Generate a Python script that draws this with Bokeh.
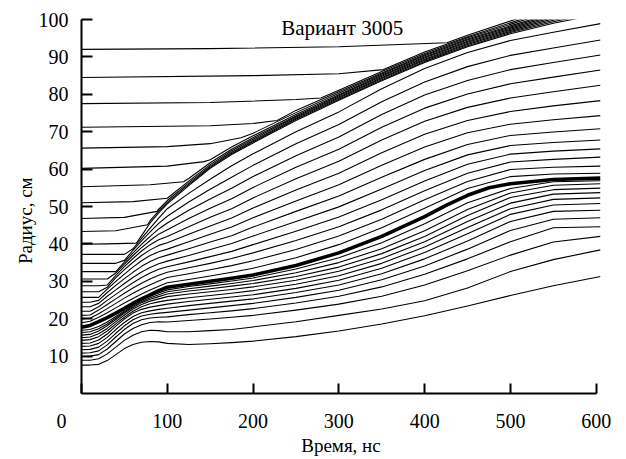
from bokeh.plotting import figure
from bokeh.models import Range1d, FixedTicker, Label
from bokeh.embed import file_html
from bokeh.resources import INLINE

FONT = "Liberation Serif"
NB = "\u00a0"

# common time grid (ns)
T = [0, 10, 20, 30, 40, 50, 60, 70, 80, 90, 100, 125, 150, 175, 200, 250, 300, 350, 400, 450, 500, 550, 605]

# trajectories below the thick line (radius, cm)
INNER = [
    [7.6, 7.6, 7.8, 8.8, 10.4, 12.0, 13.1, 13.7, 13.9, 13.8, 13.4, 13.1, 13.3, 13.6, 14.0, 15.2, 16.7, 18.6, 20.8, 23.4, 26.2, 28.8, 31.3],
    [8.9, 8.9, 9.3, 10.6, 12.4, 14.2, 15.6, 16.5, 16.9, 16.8, 16.5, 16.5, 16.8, 17.1, 17.8, 19.2, 20.9, 22.6, 24.8, 28.2, 32.6, 35.8, 38.4],
    [9.9, 10.0, 10.4, 11.9, 13.9, 15.9, 17.4, 18.4, 19.0, 19.2, 19.1, 19.5, 19.9, 20.4, 20.9, 22.3, 23.9, 26.0, 29.0, 32.8, 37.0, 40.5, 42.0],
    [10.8, 10.9, 11.4, 13.0, 15.1, 17.1, 18.7, 19.7, 20.2, 20.4, 20.5, 21.1, 21.6, 22.1, 22.7, 24.2, 26.0, 28.5, 31.9, 36.0, 40.6, 44.3, 44.6],
    [11.7, 11.8, 12.4, 14.0, 16.1, 18.1, 19.7, 20.7, 21.2, 21.5, 21.7, 22.3, 22.9, 23.5, 24.1, 25.7, 27.6, 30.4, 34.1, 38.6, 43.6, 46.6, 47.0],
    [12.6, 12.7, 13.4, 15.0, 17.1, 19.0, 20.6, 21.6, 22.1, 22.5, 22.8, 23.5, 24.1, 24.7, 25.3, 27.0, 29.0, 32.0, 36.0, 40.8, 46.0, 48.7, 49.0],
    [13.4, 13.5, 14.3, 15.9, 18.0, 19.9, 21.5, 22.5, 23.1, 23.5, 23.9, 24.6, 25.2, 25.8, 26.4, 28.1, 30.3, 33.5, 37.7, 42.7, 47.9, 50.4, 50.8],
    [14.2, 14.4, 15.2, 16.7, 18.6, 20.4, 22.0, 23.2, 24.0, 24.5, 24.9, 25.6, 26.2, 26.8, 27.5, 29.2, 31.5, 34.8, 39.2, 44.4, 49.4, 51.9, 52.3],
    [14.9, 15.1, 16.0, 17.4, 19.2, 21.0, 22.6, 23.8, 24.7, 25.3, 25.9, 26.6, 27.2, 27.8, 28.5, 30.3, 32.7, 36.1, 40.6, 46.0, 50.9, 53.3, 53.7],
    [15.6, 15.8, 16.7, 18.1, 19.8, 21.5, 23.0, 24.3, 25.2, 25.9, 26.6, 27.4, 28.0, 28.7, 29.4, 31.3, 33.8, 37.4, 42.0, 47.6, 52.4, 54.5, 54.9],
    [16.3, 16.5, 17.3, 18.6, 20.2, 21.8, 23.3, 24.6, 25.6, 26.4, 27.2, 28.0, 28.7, 29.4, 30.2, 32.3, 35.0, 38.7, 43.5, 49.2, 53.6, 55.7, 56.1],
    [16.9, 17.1, 17.9, 19.1, 20.6, 22.1, 23.6, 25.0, 26.0, 26.9, 27.7, 28.6, 29.3, 30.1, 30.9, 33.3, 36.3, 40.3, 45.4, 51.0, 54.8, 56.6, 56.9],
]

# highlighted trajectory (own time points, denser near its bend)
THICK_T = [0, 10, 20, 30, 40, 50, 60, 70, 80, 90, 100, 125, 150, 175, 200, 250, 300, 350, 400, 425, 450, 475, 500, 550, 605]
THICK = [17.7, 18.2, 19.2, 20.3, 21.5, 22.8, 24.1, 25.3, 26.4, 27.5, 28.4, 29.2, 30.0, 30.8, 31.7, 34.2, 37.6, 42.0, 47.3, 50.3, 53.0, 55.0, 56.1, 57.2, 57.6]

# trajectories between the thick line and the dense band
OUTER = [
    [18.9, 19.3, 20.4, 21.6, 22.9, 24.2, 25.4, 26.6, 27.7, 28.7, 29.6, 30.5, 31.4, 32.4, 33.5, 36.3, 39.8, 44.3, 49.5, 54.8, 58.0, 58.7, 58.9],
    [19.9, 20.1, 21.3, 22.7, 24.1, 25.5, 26.8, 28.0, 29.1, 30.1, 31.0, 32.0, 33.1, 34.2, 35.5, 38.5, 42.1, 46.6, 51.8, 56.7, 59.9, 60.5, 60.8],
    [20.9, 21.0, 22.3, 23.8, 25.3, 26.8, 28.2, 29.5, 30.6, 31.6, 32.4, 33.6, 34.8, 36.1, 37.6, 40.9, 44.6, 49.1, 54.2, 58.9, 61.9, 62.6, 63.2],
    [22.0, 22.0, 23.2, 24.9, 26.5, 28.1, 29.6, 31.0, 32.2, 33.2, 33.9, 35.2, 36.6, 38.0, 39.8, 43.4, 47.2, 51.8, 56.8, 61.3, 64.0, 64.8, 65.4],
    [23.2, 23.2, 24.1, 26.0, 27.7, 29.4, 31.0, 32.5, 33.7, 34.7, 35.4, 36.9, 38.5, 40.1, 42.1, 46.0, 49.9, 54.7, 59.6, 63.8, 66.3, 67.1, 67.8],
    [24.4, 24.4, 24.9, 27.0, 28.9, 30.7, 32.4, 34.0, 35.3, 36.3, 37.0, 38.7, 40.5, 42.2, 44.5, 48.7, 52.8, 57.8, 62.6, 66.6, 69.0, 69.9, 70.8],
    [25.7, 25.7, 25.7, 27.9, 30.0, 31.9, 33.8, 35.5, 36.9, 37.9, 38.6, 40.6, 42.6, 44.5, 47.0, 51.5, 55.8, 61.0, 65.9, 69.7, 72.0, 73.2, 74.3],
    [27.2, 27.2, 27.2, 28.4, 31.0, 33.1, 35.1, 36.9, 38.4, 39.6, 40.3, 42.6, 44.8, 46.9, 49.6, 54.4, 58.9, 64.4, 69.3, 73.0, 75.4, 76.9, 78.3],
    [28.8, 28.8, 28.8, 29.0, 31.6, 33.9, 36.1, 38.1, 39.8, 41.1, 42.0, 44.6, 47.1, 49.4, 52.3, 57.4, 62.1, 67.8, 72.8, 76.5, 79.0, 80.7, 82.4],
    [30.6, 30.6, 30.6, 30.6, 32.2, 34.6, 36.9, 39.0, 40.9, 42.6, 43.8, 46.8, 49.5, 52.1, 55.1, 60.5, 65.3, 71.2, 76.3, 80.1, 82.8, 84.6, 86.5],
    [32.6, 32.6, 32.6, 32.6, 32.6, 35.1, 37.6, 39.9, 42.0, 44.0, 45.6, 49.0, 52.0, 54.9, 58.0, 63.6, 68.6, 74.6, 79.8, 83.7, 86.6, 88.5, 90.5],
    [34.8, 34.8, 34.8, 34.8, 34.8, 35.6, 38.3, 40.8, 43.2, 45.5, 47.4, 51.2, 54.6, 57.8, 61.0, 66.8, 71.9, 78.0, 83.3, 87.4, 90.4, 92.4, 94.5],
    [37.2, 37.2, 37.2, 37.2, 37.2, 37.2, 38.7, 41.5, 44.2, 46.9, 49.4, 53.5, 57.3, 60.9, 64.1, 70.0, 75.3, 81.5, 86.9, 91.2, 94.4, 96.6, 98.9],
]

# trajectories swept into the dense band (own time points each)
BAND_T = [
    [0, 30, 64, 70, 80, 90, 100, 125, 150, 175, 200, 250, 300, 350, 400, 450, 500, 550, 605],
    [0, 40, 77, 80, 90, 100, 125, 150, 175, 200, 250, 300, 350, 400, 450, 500, 550, 605],
    [0, 50, 88, 90, 100, 125, 150, 175, 200, 250, 300, 350, 400, 450, 500, 550, 605],
    [0, 60, 100, 125, 150, 175, 200, 250, 300, 350, 400, 450, 500, 550, 605],
    [0, 80, 119, 125, 150, 175, 200, 250, 300, 350, 400, 450, 500, 550, 605],
    [0, 100, 143, 150, 175, 200, 250, 300, 350, 400, 450, 500, 550, 605],
    [0, 100, 150, 186, 200, 250, 300, 350, 400, 450, 500, 550, 605],
    [0, 150, 200, 228, 250, 300, 350, 400, 450, 500, 550, 605],
    [0, 150, 250, 279, 300, 350, 400, 450, 500, 550, 605],
    [0, 200, 300, 352, 400, 450, 500, 550, 605],
    [0, 150, 300, 426, 450, 500, 550, 605],
]
BAND_R = [
    [39.9, 40.0, 40.2, 42.2, 45.6, 48.3, 50.7, 55.6, 60.2, 63.9, 67.0, 73.0, 78.4, 83.6, 88.5, 92.7, 96.2, 99.0, 101.5],
    [43.3, 43.5, 45.1, 46.2, 48.8, 51.1, 55.9, 60.5, 64.2, 67.3, 73.3, 78.7, 83.9, 88.8, 93.0, 96.5, 99.4, 102.0],
    [46.8, 47.1, 48.7, 49.3, 51.6, 56.3, 60.8, 64.5, 67.6, 73.6, 79.0, 84.2, 89.1, 93.3, 96.8, 99.8, 102.5],
    [51.0, 51.3, 52.2, 56.8, 61.2, 64.9, 68.0, 73.9, 79.3, 84.5, 89.4, 93.6, 97.1, 100.2, 103.0],
    [55.3, 55.8, 56.6, 57.5, 61.7, 65.3, 68.4, 74.2, 79.6, 84.8, 89.7, 93.9, 97.4, 100.6, 103.5],
    [60.2, 60.8, 62.0, 62.5, 65.9, 68.9, 74.6, 79.9, 85.1, 90.0, 94.2, 97.7, 101.0, 104.0],
    [65.6, 66.0, 66.8, 68.4, 69.6, 75.1, 80.3, 85.4, 90.3, 94.5, 98.0, 101.4, 104.5],
    [71.2, 71.6, 72.2, 73.0, 75.7, 80.7, 85.7, 90.6, 94.8, 98.3, 101.8, 105.0],
    [77.5, 77.8, 78.6, 79.0, 81.1, 86.1, 90.9, 95.1, 98.7, 102.4, 105.7],
    [84.5, 85.0, 85.5, 86.6, 91.3, 95.4, 99.1, 103.0, 106.4],
    [92.0, 92.2, 92.7, 93.8, 95.8, 99.6, 103.6, 107.0],
]

X_TICKS = [0, 100, 200, 300, 400, 500, 600]
Y_TICKS = [10, 20, 30, 40, 50, 60, 70, 80, 90, 100]
TITLE = "Вариант 3005"
X_LABEL = "Время, нс"
Y_LABEL = "Радиус, см"

p = figure(width=626, height=459, output_backend="svg", toolbar_location=None,
           x_range=Range1d(0, 605), y_range=Range1d(0, 100),
           min_border_left=81, min_border_right=26, min_border_top=19, min_border_bottom=66)
p.outline_line_color = None
p.grid.visible = False
p.background_fill_color = "white"
p.border_fill_color = "white"

thin_xs = [T] * len(INNER) + [T] * len(OUTER) + BAND_T
thin_ys = INNER + OUTER + BAND_R
p.multi_line(xs=thin_xs, ys=thin_ys, line_color="black", line_width=1.1, line_join="round")
p.line(THICK_T, THICK, line_color="black", line_width=3.6, line_join="round")

for ax, ticks, bounds, tin in ((p.xaxis, X_TICKS, (0, 600), 10), (p.yaxis, Y_TICKS, (0, 100), 11)):
    ax.ticker = FixedTicker(ticks=ticks)
    ax.bounds = bounds
    ax.major_tick_in = tin
    ax.major_tick_out = 0
    ax.minor_tick_line_color = None
    ax.axis_line_width = 2
    ax.major_tick_line_width = 2
    ax.axis_line_color = "black"
    ax.major_tick_line_color = "black"
    ax.major_label_text_font = FONT
    ax.major_label_text_font_size = "20px"
    ax.major_label_text_color = "black"
    ax.axis_label_text_font = FONT
    ax.axis_label_text_font_size = "19px"
    ax.axis_label_text_font_style = "normal"
    ax.axis_label_text_color = "black"

# the origin label sits left of the corner, as in the original
p.xaxis.major_label_overrides = {0: "0" + NB * 8}
p.xaxis.major_label_standoff = 16
p.yaxis.major_label_standoff = 13
p.xaxis.axis_label = X_LABEL
p.xaxis.axis_label_standoff = 0
p.yaxis.axis_label = Y_LABEL + NB * 6
p.yaxis.axis_label_standoff = 0

p.add_layout(Label(x=303.9, y=97.7, text=TITLE, text_font=FONT, text_font_size="21px",
                   text_color="black", text_align="center", text_baseline="middle"))

open("out.html", "w").write(file_html(p, INLINE))
